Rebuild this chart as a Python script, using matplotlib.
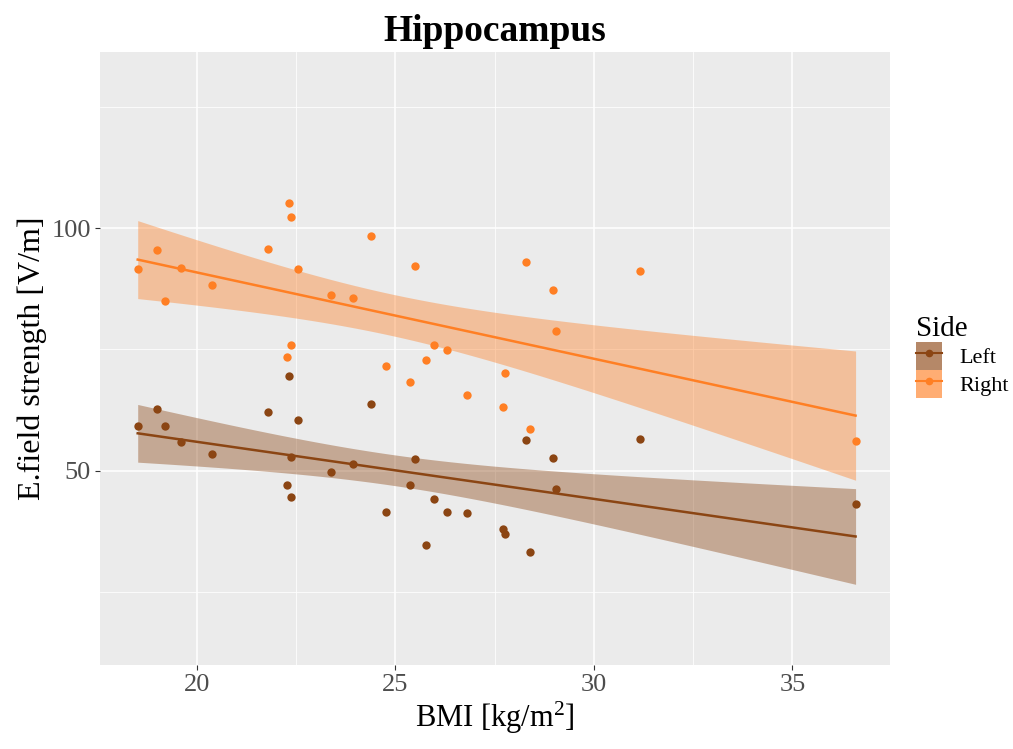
import numpy as np
import matplotlib
matplotlib.use("Agg")
import matplotlib.pyplot as plt
from matplotlib.patches import Patch
from matplotlib.lines import Line2D
from matplotlib.legend_handler import HandlerTuple

plt.rcParams['font.family'] = ['Liberation Serif', 'DejaVu Serif']
plt.rcParams['mathtext.fontset'] = 'custom'
plt.rcParams['mathtext.rm'] = 'Liberation Serif'
plt.rcParams['mathtext.it'] = 'Liberation Serif:italic'

# BMI per subject (same subjects for both hemispheres)
bmi = [18.51, 18.99, 19.19, 19.60, 20.39, 21.79, 22.31, 22.38, 22.38, 22.27,
       22.54, 23.38, 23.94, 24.39, 24.77, 25.38, 25.50, 25.77, 25.98, 26.30,
       26.81, 27.72, 27.77, 28.29, 28.38, 28.97, 29.05, 31.16, 36.59]
# E-field strength in the hippocampus [V/m]
left = [59.2, 62.7, 59.2, 55.9, 53.5, 62.1, 69.5, 52.8, 44.5, 47.1,
        60.4, 49.6, 51.3, 63.7, 41.5, 47.1, 52.3, 34.6, 44.1, 41.5,
        41.2, 38.0, 36.9, 56.2, 33.3, 52.6, 46.1, 56.5, 43.1]
right = [91.5, 95.4, 84.9, 91.8, 88.2, 95.7, 105.1, 102.2, 75.8, 73.5,
         91.5, 86.2, 85.6, 98.4, 71.5, 68.2, 92.1, 72.8, 75.8, 74.8,
         65.6, 63.0, 70.2, 93.1, 58.5, 87.2, 78.7, 91.1, 56.1]

sides = ['Left', 'Right']
colors = {'Left': '#8B4513', 'Right': '#FF7F24'}
T_CRIT = 2.052  # t(0.975, df=27)


def lm_band(x, y, xs):
    # linear fit with 95% confidence band, like geom_smooth(method='lm')
    x = np.asarray(x)
    y = np.asarray(y)
    n = len(x)
    b1, b0 = np.polyfit(x, y, 1)
    resid = y - (b0 + b1 * x)
    s = np.sqrt(np.sum(resid ** 2) / (n - 2))
    sxx = np.sum((x - x.mean()) ** 2)
    fit = b0 + b1 * xs
    se = s * np.sqrt(1 / n + (xs - x.mean()) ** 2 / sxx)
    return fit, fit - T_CRIT * se, fit + T_CRIT * se


fig = plt.figure(figsize=(10.13, 7.49), dpi=100)
ax = fig.add_axes([0.0987, 0.1121, 0.78, 0.8185])
ax.set_facecolor('#EBEBEB')

xs = np.linspace(min(bmi), max(bmi), 100)
handles = []
for side, vals in zip(sides, [left, right]):
    c = colors[side]
    fit, lo, hi = lm_band(bmi, vals, xs)
    ax.fill_between(xs, lo, hi, color=c, alpha=0.4, lw=0, zorder=2)
    ax.plot(xs, fit, color=c, lw=1.8, zorder=3)
    ax.scatter(bmi, vals, s=36, color=c, lw=0, zorder=4)
    handles.append((Patch(facecolor=c, alpha=0.64, edgecolor='none'),
                    Line2D([], [], color=c, lw=1.5, marker='o', markersize=4.5)))

ax.set_xlim(17.56, 37.46)
ax.set_ylim(9.9, 136.3)
ax.set_xticks([20, 25, 30, 35])
ax.set_yticks([50, 100])
ax.set_xticks([22.5, 27.5, 32.5], minor=True)
ax.set_yticks([25, 75, 125], minor=True)
ax.grid(which='major', color='white', lw=1.1, zorder=0)
ax.grid(which='minor', color='white', lw=0.55, zorder=0)
ax.set_axisbelow(True)
for sp in ax.spines.values():
    sp.set_visible(False)
ax.tick_params(which='major', length=3.5, width=0.8, color='#333333',
               labelsize=19, labelcolor='#4D4D4D', pad=3)
ax.tick_params(which='minor', length=0)

ax.set_title('Hippocampus', fontsize=27, fontweight='bold', pad=8)
ax.set_xlabel('BMI [kg/m$^2$]', fontsize=22, labelpad=3)
ax.set_ylabel('E.field strength [V/m]', fontsize=23, labelpad=3)

leg = fig.legend(handles, sides, handler_map={tuple: HandlerTuple(ndivide=1, pad=0)},
                 title='Side', loc='upper left', bbox_to_anchor=(0.904, 0.578),
                 frameon=False, fontsize=16, title_fontsize=21,
                 handlelength=1.2, handleheight=1.55, labelspacing=0.0,
                 handletextpad=0.75, borderpad=0, borderaxespad=0)
leg._legend_box.align = 'left'

fig.savefig('out.png', dpi=100)
